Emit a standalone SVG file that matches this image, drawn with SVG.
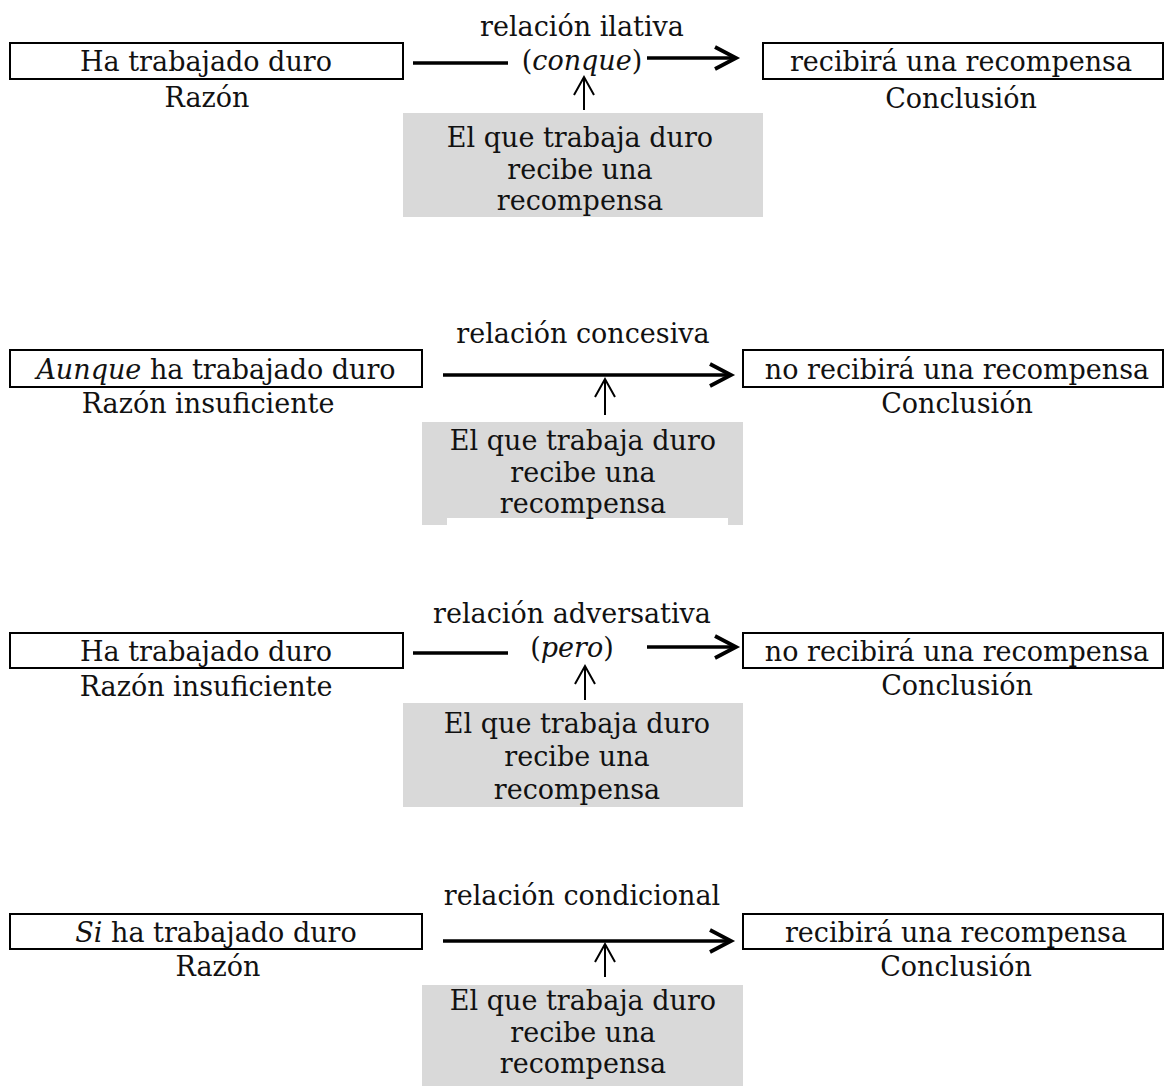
<svg xmlns="http://www.w3.org/2000/svg" width="1164" height="1086" viewBox="0 0 1164 1086">
  <style>
    text { font-family: "DejaVu Serif", "Liberation Serif", serif; font-size: 27px; fill: #111; text-anchor: middle; }
    .it { font-style: italic; }
    .box { fill: #fff; stroke: #000; stroke-width: 2; }
    .gray { fill: #d9d9d9; stroke: none; }
    .main { stroke: #000; stroke-width: 3.5; fill: none; }
    .sup { stroke: #000; stroke-width: 2; fill: none; }
  </style>
  <defs>
    <marker id="headBig" markerUnits="userSpaceOnUse" markerWidth="30" markerHeight="30" viewBox="-24 -15 30 30" refX="0" refY="0" orient="auto" overflow="visible">
      <path d="M-21,-11 L0,0 L-21,11" fill="none" stroke="#000" stroke-width="3.8" stroke-linejoin="miter"/>
    </marker>
    <marker id="headSmall" markerUnits="userSpaceOnUse" markerWidth="30" markerHeight="30" viewBox="-22 -14 30 30" refX="0" refY="0" orient="auto" overflow="visible">
      <path d="M-18,-10 L0,0 L-18,10" fill="none" stroke="#000" stroke-width="2"/>
    </marker>
  </defs>
  <rect width="1164" height="1086" fill="#fff"/>

  <!-- 1: relación ilativa -->
  <g id="razon1">
    <rect class="box" x="10" y="43" width="393" height="36"/>
    <text x="206" y="71">Ha trabajado duro</text>
    <text x="207" y="107">Razón</text>
  </g>
  <g id="conclusion1">
    <rect class="box" x="763" y="43" width="400" height="36"/>
    <text x="961" y="71">recibirá una recompensa</text>
    <text x="961" y="108">Conclusión</text>
  </g>
  <g id="relacion1">
    <text x="582" y="36">relación ilativa</text>
    <text x="582" y="70">(<tspan class="it">conque</tspan>)</text>
  </g>
  <g id="garantia1">
    <rect class="gray" x="403" y="113" width="360" height="104"/>
    <text x="580" y="147">El que trabaja duro</text>
    <text x="580" y="178.5">recibe una</text>
    <text x="580" y="210">recompensa</text>
  </g>

  <!-- 2: relación concesiva -->
  <g id="razon2">
    <rect class="box" x="10" y="350" width="412" height="37"/>
    <text x="216" y="379"><tspan class="it">Aunque</tspan> ha trabajado duro</text>
    <text x="208" y="413">Razón insuficiente</text>
  </g>
  <g id="conclusion2">
    <rect class="box" x="743" y="350" width="420" height="37"/>
    <text x="957" y="379">no recibirá una recompensa</text>
    <text x="957" y="413">Conclusión</text>
  </g>
  <g id="relacion2">
    <text x="583" y="343">relación concesiva</text>
  </g>
  <g id="garantia2">
    <path class="gray" d="M422,422 H743 V525 H728 V518 H447 V525 H422 Z"/>
    <text x="583" y="450">El que trabaja duro</text>
    <text x="583" y="481.5">recibe una</text>
    <text x="583" y="513">recompensa</text>
  </g>

  <!-- 3: relación adversativa -->
  <g id="razon3">
    <rect class="box" x="10" y="633" width="393" height="35"/>
    <text x="206" y="661">Ha trabajado duro</text>
    <text x="206" y="696">Razón insuficiente</text>
  </g>
  <g id="conclusion3">
    <rect class="box" x="743" y="633" width="420" height="35"/>
    <text x="957" y="661">no recibirá una recompensa</text>
    <text x="957" y="695">Conclusión</text>
  </g>
  <g id="relacion3">
    <text x="572" y="623">relación adversativa</text>
    <text x="572" y="657">(<tspan class="it">pero</tspan>)</text>
  </g>
  <g id="garantia3">
    <rect class="gray" x="403" y="703" width="340" height="104"/>
    <text x="577" y="733">El que trabaja duro</text>
    <text x="577" y="766">recibe una</text>
    <text x="577" y="799">recompensa</text>
  </g>

  <!-- 4: relación condicional -->
  <g id="razon4">
    <rect class="box" x="10" y="914" width="412" height="35"/>
    <text x="216" y="942"><tspan class="it">Si</tspan> ha trabajado duro</text>
    <text x="218" y="976">Razón</text>
  </g>
  <g id="conclusion4">
    <rect class="box" x="743" y="914" width="420" height="35"/>
    <text x="956" y="942">recibirá una recompensa</text>
    <text x="956" y="976">Conclusión</text>
  </g>
  <g id="relacion4">
    <text x="582" y="905">relación condicional</text>
  </g>
  <g id="garantia4">
    <rect class="gray" x="422" y="985" width="321" height="101"/>
    <text x="583" y="1010">El que trabaja duro</text>
    <text x="583" y="1041.5">recibe una</text>
    <text x="583" y="1073">recompensa</text>
  </g>

  <!-- connectors -->
  <g id="connectors">
    <line class="main" x1="413" y1="63" x2="508" y2="63"/>
    <line class="main" x1="647" y1="58" x2="736" y2="58" marker-end="url(#headBig)"/>
    <line class="sup" x1="584" y1="110" x2="584" y2="77" marker-end="url(#headSmall)"/>

    <line class="main" x1="443" y1="375" x2="731" y2="375" marker-end="url(#headBig)"/>
    <line class="sup" x1="605" y1="415" x2="605" y2="379" marker-end="url(#headSmall)"/>

    <line class="main" x1="413" y1="653" x2="508" y2="653"/>
    <line class="main" x1="647" y1="647" x2="736" y2="647" marker-end="url(#headBig)"/>
    <line class="sup" x1="585" y1="700" x2="585" y2="666" marker-end="url(#headSmall)"/>

    <line class="main" x1="443" y1="941" x2="731" y2="941" marker-end="url(#headBig)"/>
    <line class="sup" x1="605" y1="977" x2="605" y2="944" marker-end="url(#headSmall)"/>
  </g>
</svg>
